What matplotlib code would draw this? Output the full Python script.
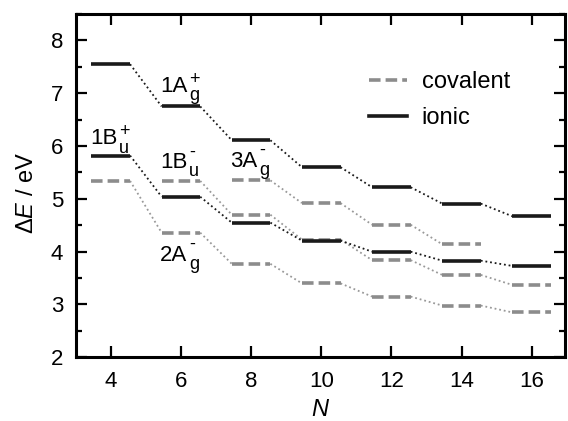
import matplotlib
matplotlib.use("Agg")
import matplotlib.pyplot as plt
from matplotlib.lines import Line2D
from matplotlib.ticker import MultipleLocator

plt.rcParams['font.family'] = ['Liberation Sans', 'DejaVu Sans']
plt.rcParams['mathtext.fontset'] = 'custom'
plt.rcParams['mathtext.rm'] = 'Liberation Sans'
plt.rcParams['mathtext.it'] = 'Liberation Sans:italic'

# excitation energies (eV) vs chain length N
N = [4, 6, 8, 10, 12, 14, 16]
ionic_1Ag = [7.55, 6.75, 6.11, 5.60, 5.22, 4.91, 4.67]
ionic_1Bu = [5.82, 5.04, 4.55, 4.21, 4.00, 3.83, 3.73]

N_2Ag = [4, 6, 8, 10, 12, 14, 16]
cov_2Ag = [5.34, 4.36, 3.77, 3.40, 3.15, 2.98, 2.85]
N_1Bu = [6, 8, 10, 12, 14, 16]
cov_1Bu = [5.34, 4.70, 4.23, 3.84, 3.56, 3.37]
N_3Ag = [8, 10, 12, 14]
cov_3Ag = [5.35, 4.92, 4.51, 4.14]

# state labels: main text, subscript, superscript, anchor (N, E)
lab_main = ['1A', '1B', '1B', '3A', '2A']
lab_sub = ['g', 'u', 'u', 'g', 'g']
lab_sup = ['+', '+', '-', '-', '-']
lab_xy = [(5.40, 7.02), (3.41, 6.03), (5.40, 5.58), (7.40, 5.61), (5.40, 3.83)]

hw = 0.55  # half width of a level
gray = '#8c8c8c'
black = '#1a1a1a'


def levels(ax, xs, es, color, dashed):
    # dotted connectors between neighbouring levels
    for i in range(len(xs) - 1):
        ax.plot([xs[i] + hw, xs[i + 1] - hw], [es[i], es[i + 1]],
                ls=(0, (1, 1.6)), lw=1.3, color='#999999' if dashed else color)
    for x, e in zip(xs, es):
        if dashed:
            ax.plot([x - hw, x + hw], [e, e], color=color, lw=2.6,
                    ls=(0, (3.2, 1.4)), dash_capstyle='butt')
        else:
            ax.plot([x - hw, x + hw], [e, e], color=color, lw=2.6,
                    solid_capstyle='butt')


fig = plt.figure(figsize=(5.68, 4.21), dpi=100)
ax = fig.add_axes([0.1333, 0.1513, 0.8614, 0.8154])

levels(ax, N_2Ag, cov_2Ag, gray, True)
levels(ax, N_1Bu, cov_1Bu, gray, True)
levels(ax, N_3Ag, cov_3Ag, gray, True)
levels(ax, N, ionic_1Bu, black, False)
levels(ax, N, ionic_1Ag, black, False)

fs = 16
for m, sb, sp, (x, y) in zip(lab_main, lab_sub, lab_sup, lab_xy):
    t = ax.text(x, y, m, fontsize=fs, va='baseline')
    ax.annotate(sb, xy=(1, 0), xycoords=t, xytext=(1.2, -2.2),
                textcoords='offset points', fontsize=13, va='baseline')
    dy = 9.5 if sp == '+' else 12.0
    ax.annotate(sp, xy=(1, 0), xycoords=t, xytext=(1.4, dy),
                textcoords='offset points', fontsize=13, va='baseline')

handles = [Line2D([], [], color=gray, lw=2.6, ls=(0, (3.2, 1.4))),
           Line2D([], [], color=black, lw=2.6)]
ax.legend(handles, ['covalent', 'ionic'], frameon=False, fontsize=17,
          loc='upper left', bbox_to_anchor=(0.555, 0.895),
          handlelength=1.65, handletextpad=0.6, labelspacing=0.6)

ax.set_xlim(3, 16.95)
ax.set_ylim(2, 8.5)
ax.xaxis.set_major_locator(MultipleLocator(2))
ax.yaxis.set_major_locator(MultipleLocator(1))
ax.yaxis.set_minor_locator(MultipleLocator(0.5))
ax.tick_params(which='both', direction='in', top=True, right=True, width=1.6)
ax.tick_params(which='major', length=8)
ax.tick_params(which='minor', length=4.5)
ax.tick_params(axis='y', which='major', pad=9, labelsize=fs)
ax.tick_params(axis='x', which='major', pad=10, labelsize=fs)
for s in ax.spines.values():
    s.set_linewidth(2.2)

ax.set_xlabel(r'$\mathit{N}$', fontsize=17, labelpad=5)
ax.set_ylabel(r'$\Delta\mathit{E}$ / eV', fontsize=17)
ax.yaxis.set_label_coords(-0.077, 0.48)

fig.savefig('out.png', dpi=100)
